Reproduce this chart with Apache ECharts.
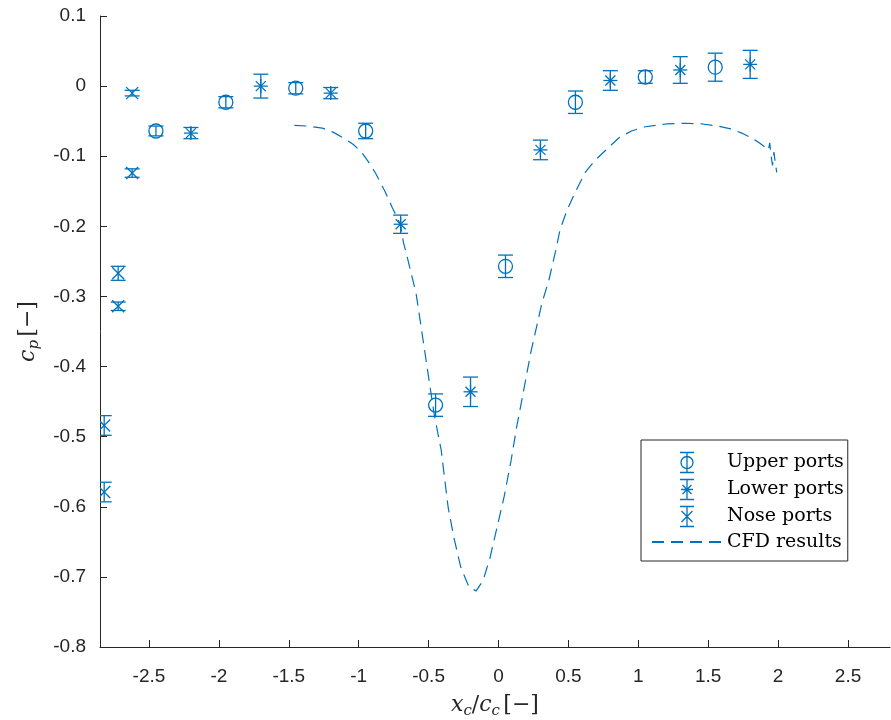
<!DOCTYPE html>
<html>
<head>
<meta charset="utf-8">
<title>Pressure coefficient distribution</title>
<script src="https://cdn.jsdelivr.net/npm/echarts@6/dist/echarts.min.js"></script>
<style>
  html, body { margin: 0; padding: 0; background: #fff; }
  #cp_chart { width: 891px; height: 720px; }
</style>
</head>
<body>
<div id="cp_chart"></div>
<script>
// upper side ports: position, measured cp, error half width
var upperX   = [-2.45, -1.95, -1.45, -0.95, -0.45, 0.05, 0.55, 1.05, 1.55];
var upperCp  = [-0.064, -0.023, -0.003, -0.064, -0.455, -0.257, -0.023, 0.013, 0.027];
var upperErr = [0.007, 0.008, 0.008, 0.011, 0.016, 0.016, 0.016, 0.009, 0.02];

// lower side ports
var lowerX   = [-2.2, -1.7, -1.2, -0.7, -0.2, 0.3, 0.8, 1.3, 1.8];
var lowerCp  = [-0.067, 0.0, -0.01, -0.197, -0.436, -0.091, 0.008, 0.023, 0.031];
var lowerErr = [0.008, 0.017, 0.008, 0.013, 0.021, 0.014, 0.014, 0.019, 0.02];

// nose ports
var noseX   = [-2.62, -2.62, -2.72, -2.72, -2.82, -2.82];
var noseCp  = [-0.010, -0.124, -0.267, -0.314, -0.484, -0.579];
var noseErr = [0.004, 0.006, 0.01, 0.006, 0.014, 0.014];

// CFD curve
var cfdX  = [-1.46, -1.36, -1.26, -1.18, -1.11, -1.04, -0.98, -0.93, -0.88, -0.81, -0.76,
             -0.70, -0.68, -0.66, -0.59, -0.55, -0.50, -0.46, -0.41, -0.39, -0.36, -0.32,
             -0.27, -0.21, -0.16, -0.11, -0.06, -0.01, 0.04, 0.09, 0.13, 0.16, 0.23, 0.31,
             0.36, 0.41, 0.44, 0.49, 0.55, 0.62, 0.69, 0.79, 0.86, 0.95, 1.05, 1.2, 1.34,
             1.46, 1.57, 1.66, 1.74, 1.80, 1.86, 1.90, 1.93, 1.94, 1.95, 1.96, 1.97, 1.98, 1.99];
var cfdCp = [-0.056, -0.057, -0.060, -0.066, -0.074, -0.083, -0.094, -0.108, -0.124, -0.151, -0.173,
             -0.198, -0.223, -0.238, -0.295, -0.348, -0.415, -0.468, -0.519, -0.552, -0.601, -0.643,
             -0.686, -0.715, -0.720, -0.705, -0.672, -0.629, -0.586, -0.534, -0.486, -0.455, -0.381, -0.310,
             -0.277, -0.234, -0.205, -0.177, -0.151, -0.123, -0.106, -0.087, -0.074, -0.064, -0.058, -0.054, -0.053,
             -0.054, -0.057, -0.061, -0.067, -0.073, -0.080, -0.086, -0.091, -0.081, -0.100, -0.113, -0.094, -0.110, -0.123];

var xTicks = [-2.5, -2, -1.5, -1, -0.5, 0, 0.5, 1, 1.5, 2, 2.5];

var BLUE = '#0072BD';
var AXIS = '#262626';

function zip3(a, b, c) {
  return a.map(function (v, i) { return [v, b[i], c[i]]; });
}

// error bar + marker drawn from axis coordinates
function portRenderer(marker) {
  return function (params, api) {
    var x = api.value(0), y = api.value(1), e = api.value(2);
    var c = api.coord([x, y]);
    var top = api.coord([x, y + e]);
    var bot = api.coord([x, y - e]);
    var w = 7.5;
    var st = { stroke: BLUE, lineWidth: 1.3, fill: null };
    var kids = [
      { type: 'line', shape: { x1: c[0], y1: top[1], x2: c[0], y2: bot[1] }, style: st },
      { type: 'line', shape: { x1: c[0] - w, y1: top[1], x2: c[0] + w, y2: top[1] }, style: st },
      { type: 'line', shape: { x1: c[0] - w, y1: bot[1], x2: c[0] + w, y2: bot[1] }, style: st }
    ];
    if (marker === 'circle') {
      kids.push({ type: 'circle', shape: { cx: c[0], cy: c[1], r: 7 }, style: st });
    } else if (marker === 'star') {
      var s = 7, d = 5;
      kids.push({ type: 'line', shape: { x1: c[0] - s, y1: c[1], x2: c[0] + s, y2: c[1] }, style: st });
      kids.push({ type: 'line', shape: { x1: c[0], y1: c[1] - s, x2: c[0], y2: c[1] + s }, style: st });
      kids.push({ type: 'line', shape: { x1: c[0] - d, y1: c[1] - d, x2: c[0] + d, y2: c[1] + d }, style: st });
      kids.push({ type: 'line', shape: { x1: c[0] + d, y1: c[1] - d, x2: c[0] - d, y2: c[1] + d }, style: st });
    } else {
      var k = 6;
      kids.push({ type: 'line', shape: { x1: c[0] - k, y1: c[1] - k, x2: c[0] + k, y2: c[1] + k }, style: st });
      kids.push({ type: 'line', shape: { x1: c[0] + k, y1: c[1] - k, x2: c[0] - k, y2: c[1] + k }, style: st });
    }
    return { type: 'group', children: kids };
  };
}

var serif = 'DejaVu Serif';
var mathRich = {
  i: { fontFamily: serif, fontStyle: 'italic', fontSize: 22, color: AXIS },
  s: { fontFamily: serif, fontStyle: 'italic', fontSize: 15, color: AXIS, padding: [12, 0, 0, 0] },
  n: { fontFamily: serif, fontSize: 22, color: AXIS }
};

var iconBar = 'M0,0L14,0M0,20L14,20M7,0L7,20';
var legendStyle = { color: 'none', borderColor: BLUE, borderWidth: 1.3 };

var chart = echarts.init(document.getElementById('cp_chart'));
chart.setOption({
  animation: false,
  grid: { left: 100, right: 1, top: 16, bottom: 73, outerBoundsMode: 'none' },
  legend: {
    orient: 'vertical',
    left: 641,
    top: 440,
    itemWidth: 70,
    itemHeight: 20,
    itemGap: 2,
    padding: [10, 4, 8, 10],
    borderColor: AXIS,
    borderWidth: 1,
    textStyle: { fontFamily: serif, fontSize: 19, lineHeight: 22, color: '#000' },
    data: [
      { name: 'Upper ports', icon: 'path://' + iconBar + 'M13,10A6,6,0,1,1,1,10A6,6,0,1,1,13,10', itemStyle: legendStyle },
      { name: 'Lower ports', icon: 'path://' + iconBar + 'M1,10L13,10M2.5,5.5L11.5,14.5M11.5,5.5L2.5,14.5', itemStyle: legendStyle },
      { name: 'Nose ports', icon: 'path://' + iconBar + 'M1.5,4.5L12.5,15.5M12.5,4.5L1.5,15.5', itemStyle: legendStyle },
      { name: 'CFD results', itemStyle: { color: 'none', borderWidth: 0 } }
    ]
  },
  xAxis: {
    type: 'value',
    min: -2.85,
    max: 2.8,
    name: '{i|x}{s|c}{n|/}{i|c}{s|c} {n|[−]}',
    nameLocation: 'middle',
    nameGap: 45,
    nameTextStyle: { rich: mathRich },
    axisLine: { onZero: false, lineStyle: { color: AXIS, width: 1 } },
    axisTick: { inside: true, length: 7, customValues: xTicks, lineStyle: { color: AXIS } },
    axisLabel: { customValues: xTicks, margin: 20, fontFamily: 'Liberation Sans', fontSize: 19, color: AXIS },
    splitLine: { show: false }
  },
  yAxis: {
    type: 'value',
    min: -0.8,
    max: 0.1,
    interval: 0.1,
    name: '{i|c}{s|p} {n|[−]}',
    nameLocation: 'middle',
    nameRotate: 90,
    nameGap: 58,
    nameTextStyle: { rich: mathRich },
    axisLine: { show: true, onZero: false, lineStyle: { color: AXIS, width: 1 } },
    axisTick: { show: true, inside: true, length: 7, lineStyle: { color: AXIS } },
    axisLabel: { margin: 14, fontFamily: 'Liberation Sans', fontSize: 19, color: AXIS },
    splitLine: { show: false }
  },
  series: [
    {
      name: 'Upper ports',
      type: 'custom',
      renderItem: portRenderer('circle'),
      data: zip3(upperX, upperCp, upperErr),
      encode: { x: 0, y: 1 },
      itemStyle: { color: BLUE },
      clip: true
    },
    {
      name: 'Lower ports',
      type: 'custom',
      renderItem: portRenderer('star'),
      data: zip3(lowerX, lowerCp, lowerErr),
      encode: { x: 0, y: 1 },
      itemStyle: { color: BLUE },
      clip: true
    },
    {
      name: 'Nose ports',
      type: 'custom',
      renderItem: portRenderer('cross'),
      data: zip3(noseX, noseCp, noseErr),
      encode: { x: 0, y: 1 },
      itemStyle: { color: BLUE },
      clip: true
    },
    {
      name: 'CFD results',
      type: 'line',
      data: cfdX.map(function (v, i) { return [v, cfdCp[i]]; }),
      symbol: 'none',
      smooth: false,
      lineStyle: { color: BLUE, width: 1.2, type: [12, 7] },
      itemStyle: { color: BLUE }
    }
  ]
});
</script>
</body>
</html>
